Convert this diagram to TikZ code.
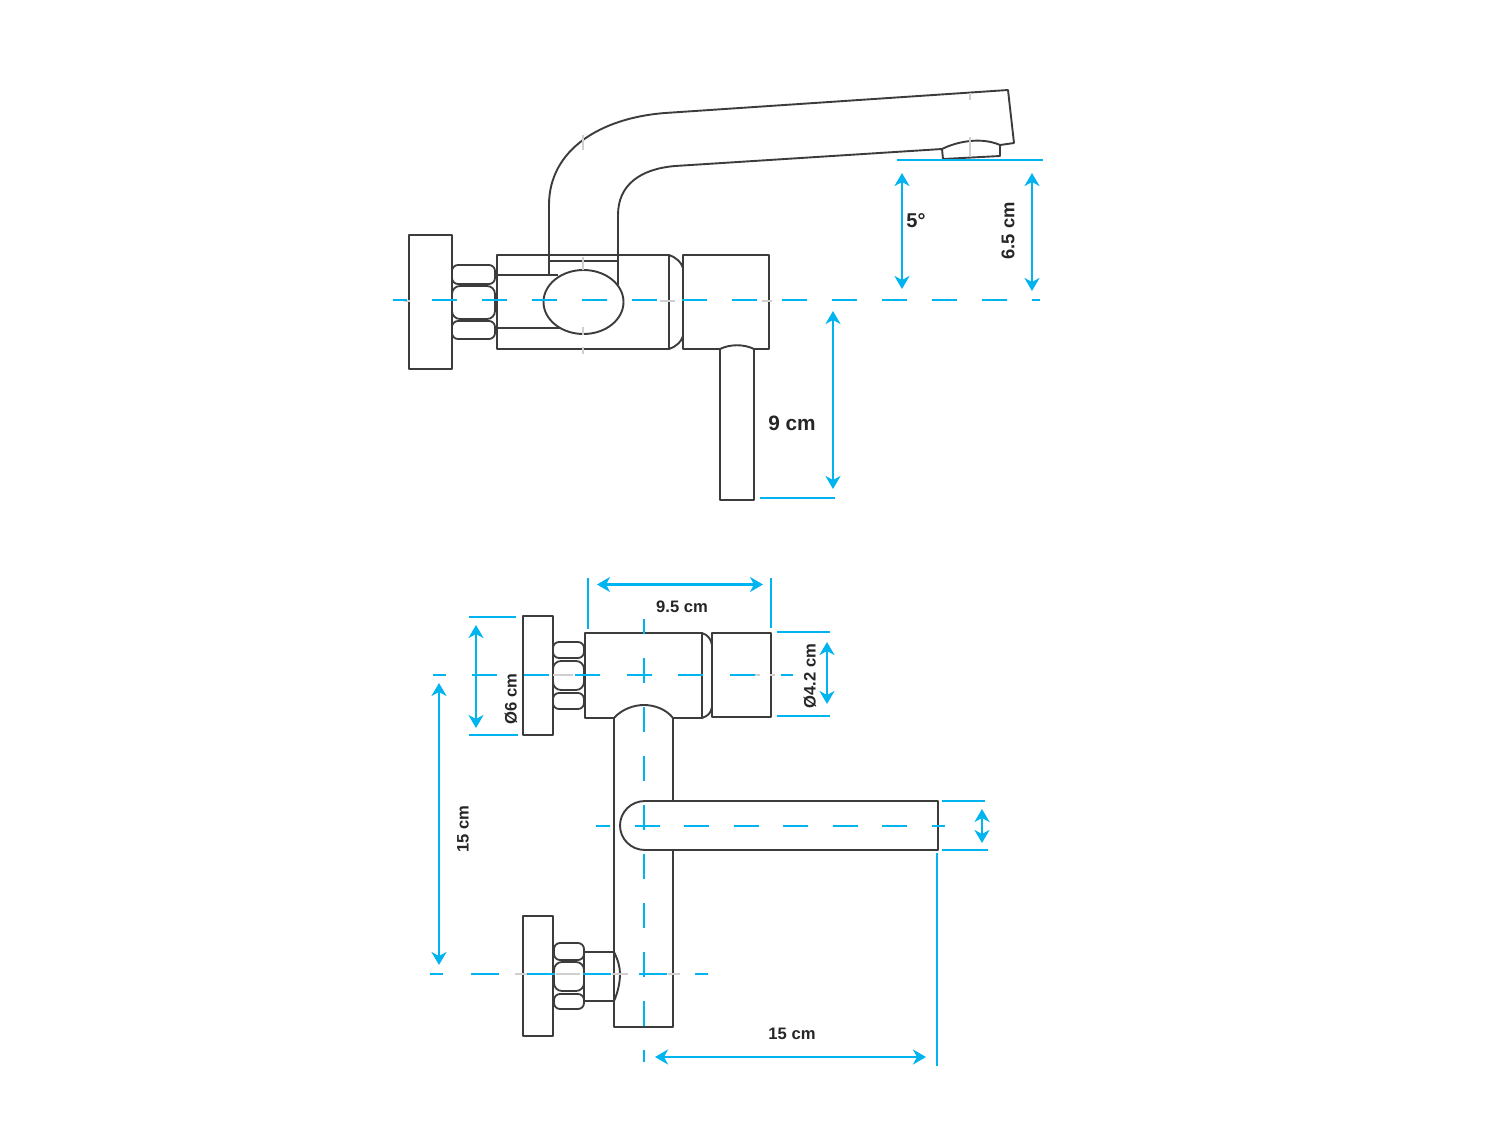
\documentclass[tikz,border=0pt]{standalone}
\usepackage{fontspec}
\setmainfont{Liberation Sans}
\usetikzlibrary{arrows.meta}
\definecolor{dimblue}{HTML}{00B4F0}
\definecolor{ink}{HTML}{3C3C3C}
\definecolor{faint}{HTML}{CFCFCF}
\tikzset{
  part/.style={draw=ink,line width=0.95pt,line join=round},
  nutrow/.style={draw=ink,line width=0.9pt,rounded corners=3pt},
  dimline/.style={draw=dimblue,line width=1.1pt},
  dimarrow/.style={dimline,{Stealth[length=6.5pt,width=7.5pt,inset=2pt]}-{Stealth[length=6.5pt,width=7.5pt,inset=2pt]}},
  centre/.style={dimline,dash pattern=on 12.5pt off 12.5pt},
  faintmark/.style={draw=faint,line width=0.6pt},
  dimtext/.style={font=\bfseries\fontsize{8.3}{10}\selectfont,text=black!85,inner sep=0pt},
}
\begin{document}
\begin{tikzpicture}[x=0.5pt,y=-0.5pt]
\useasboundingbox[fill=white] (0,0) rectangle (1500,1125);

% ---------- upper view: outline ----------
\draw[part] (409,235) rectangle (452,369);
\draw[nutrow] (452,265) rectangle (495,284);
\draw[nutrow,rounded corners=4pt] (452,286) rectangle (495,319);
\draw[nutrow] (452,321) rectangle (495,339);
\draw[part] (497,255) rectangle (669,349);
\draw[part] (497,275) -- (558,275);
\draw[part] (497,328) -- (562,328);
\draw[part] (549,261) -- (618,261);
\draw[part] (618,255) -- (618,285);
\draw[part] (549,255) -- (549,275);
\draw[part,fill=white] (583.5,302) ellipse (40 and 32);
\draw[part] (669,255) .. controls (677,258) and (681,262) .. (683,268) -- (683,336) .. controls (681,342) and (677,346) .. (669,349);
\draw[part] (720,349) -- (683,349) -- (683,255) -- (769,255) -- (769,349) -- (754,349);
\draw[part] (720,500) -- (720,349) .. controls (730,344) and (744,344) .. (754,349) -- (754,500) -- cycle;
\draw[part] (549,255) -- (549,205) .. controls (549,150) and (600,118) .. (665,113) -- (1008,90) -- (1014,143) -- (1000,145);
\draw[part] (618,255) -- (618,215) .. controls (618,185) and (640,169) .. (675,166) -- (942,149);
\draw[part] (942,149) .. controls (958,141) and (982,137) .. (1000,145) -- (1000,156) -- (943,159) -- cycle;

% faint centre marks
\draw[faintmark] (583,257) -- (583,270) (583,327) -- (583,335) (583,347) -- (583,354)
            (583,135) -- (583,150) (970,93) -- (970,100) (970,137) -- (970,157)
            (404,301) -- (410,301) (660,301) -- (675,301) (762,301) -- (772,301);

% ---------- upper view: dimensions ----------
\draw[centre,dash phase=5.5pt] (393,300) -- (1040,300);
\draw[dimline] (897,160) -- (1043,160);
\draw[dimline] (760,498) -- (835,498);
\draw[dimarrow] (902,173) -- (902,289);
\draw[dimarrow] (1032,173) -- (1032,291);
\draw[dimarrow] (833,311) -- (833,489);
\node[dimtext,font=\bfseries\fontsize{10}{12}\selectfont] (a5) at (916,221) {5°};
\node[dimtext,font=\bfseries\fontsize{9.2}{12}\selectfont,rotate=90] (a65) at (1008,231) {6.5 cm};
\node[dimtext,font=\bfseries\fontsize{10.4}{12}\selectfont] (a9) at (792,423) {9 cm};

% ---------- lower view: outline ----------
\draw[part] (523,616) rectangle (553,735);
\draw[nutrow] (553,642) rectangle (584,658);
\draw[nutrow,rounded corners=4pt] (553,661) rectangle (584,690);
\draw[nutrow] (553,693) rectangle (584,709);
\draw[part] (614,718) -- (585,718) -- (585,633) -- (702,633) -- (702,718) -- (673,718);
\draw[part] (702,633) .. controls (708,635) and (711,639) .. (712,645) -- (712,707) .. controls (711,713) and (708,716) .. (702,718);
\draw[part] (712,633) rectangle (771,717);
\draw[part] (614,718) .. controls (622,709) and (634,705) .. (644,705) .. controls (654,705) and (666,709) .. (673,718);
\draw[part] (614,718) -- (614,1027) -- (673,1027) -- (673,850);
\draw[part] (673,718) -- (673,801);
\draw[part,fill=white] (645,801) -- (938,801) -- (938,850) -- (645,850) .. controls (631,850) and (620,839) .. (620,825.5) .. controls (620,812) and (631,801) .. (645,801) -- cycle;
\draw[part] (523,916) rectangle (553,1036);
\draw[nutrow] (554,943) rectangle (584,960);
\draw[nutrow,rounded corners=4pt] (554,962) rectangle (584,991);
\draw[nutrow] (554,994) rectangle (584,1009);
\draw[part] (584,952) -- (614,952) .. controls (618,960) and (620,967) .. (620,974) .. controls (620,982) and (618,992) .. (614,1001) -- (584,1001) -- cycle;

% faint centre marks
\draw[faintmark] (553,675) -- (573,675) (755,675) -- (760,675) (770,675) -- (775,675)
            (515,974) -- (527,974) (556,974) -- (580,974) (612,974) -- (628,974) (668,974) -- (680,974);

% ---------- lower view: dimensions ----------
\draw[dimline] (433,675) -- (446,675);
\draw[centre,dash pattern=on 12.5pt off 13.25pt] (472,675) -- (793,675);
\draw[centre,dash pattern=on 12.5pt off 12pt,dash phase=6.5pt] (644,1062) -- (644,619);
\draw[centre,dash pattern=on 12.5pt off 12.25pt,dash phase=5.5pt] (596,826) -- (945,826);
\draw[centre,dash pattern=on 14pt off 14pt,dash phase=7.5pt] (430,974) -- (708,974);

\draw[dimline] (588,578) -- (588,629);
\draw[dimline] (771,578) -- (771,628);
\draw[dimarrow] (597,584.5) -- (763,584.5);
\draw[dimline] (777,632) -- (830,632);
\draw[dimline] (777,716) -- (830,716);
\draw[dimarrow] (827,642) -- (827,704);
\draw[dimline] (469,617) -- (516,617);
\draw[dimline] (469,735) -- (518,735);
\draw[dimarrow] (476,625) -- (476,728);
\draw[dimarrow] (439,683) -- (439,965);
\draw[dimline] (942,801) -- (985,801);
\draw[dimline] (942,850) -- (988,850);
\draw[dimarrow] (982,809) -- (982,843);
\draw[dimline] (937,853) -- (937,1066);
\draw[dimarrow] (655,1057) -- (926,1057);

\node[dimtext] (b95) at (682,607) {9.5 cm};
\node[dimtext,rotate=90] (b42) at (810,676) {Ø4.2 cm};
\node[dimtext,rotate=90] (b6) at (511,699) {Ø6 cm};
\node[dimtext,rotate=90] (b15l) at (463,829) {15 cm};
\node[dimtext] (b15b) at (792,1034) {15 cm};
\end{tikzpicture}
\end{document}
